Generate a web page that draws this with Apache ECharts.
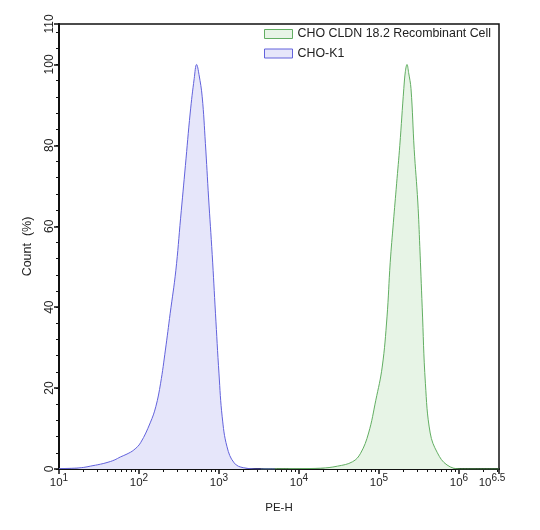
<!DOCTYPE html>
<html>
<head>
  <meta charset="UTF-8">
  <title>PE-H histogram</title>
  <style>
    html, body { margin: 0; padding: 0; background: #fff; }
    #chart { width: 540px; height: 530px; }
  </style>
</head>
<body>
  <div id="chart"></div>
  <script src="https://cdn.jsdelivr.net/npm/echarts@6/dist/echarts.min.js"></script>
  <script>
    // CHO-K1 (blue): x in log10(PE-H), y in Count (%)
    const k1Log = [1.0, 1.19, 1.31, 1.39, 1.52, 1.60, 1.69, 1.77, 1.85, 1.935, 2.02, 2.14, 2.21, 2.27, 2.33, 2.39, 2.46, 2.52, 2.58, 2.64, 2.69, 2.72, 2.75, 2.79, 2.83, 2.87, 2.915, 2.956, 3.00, 3.04, 3.10, 3.19, 3.31, 3.52, 3.70];
    const k1Count = [0.1, 0.2, 0.4, 0.7, 1.2, 1.6, 2.2, 3.0, 3.7, 4.7, 6.5, 11.4, 15.4, 21.2, 29.4, 38.5, 49.0, 62.0, 75.0, 88.0, 96.5, 100, 97.5, 92.0, 80.5, 67.0, 53.0, 38.5, 23.5, 12.9, 5.5, 1.5, 0.3, 0, 0];

    // CHO CLDN 18.2 Recombinant Cell (green)
    const cldnLog = [3.52, 4.02, 4.27, 4.48, 4.67, 4.77, 4.87, 4.96, 5.04, 5.10, 5.14, 5.18, 5.22, 5.26, 5.31, 5.33, 5.35, 5.37, 5.40, 5.44, 5.485, 5.51, 5.54, 5.58, 5.64, 5.73, 5.85, 6.02, 6.5];
    const cldnCount = [0, 0.1, 0.2, 0.7, 1.8, 3.9, 8.9, 17.0, 25.2, 37.6, 51.0, 61.0, 70.5, 80.0, 94.0, 98.3, 100, 98.0, 94.0, 79.0, 66.0, 55.0, 40.0, 21.2, 8.9, 4.0, 1.0, 0, 0];

    const seriesNames = ['CHO CLDN 18.2 Recombinant Cell', 'CHO-K1'];
    const xLabelValues = [1, 2, 3, 4, 5, 6, 6.5];
    const yLabelValues = [0, 20, 40, 60, 80, 100, 110];

    const blueLine = '#6262dc';
    const blueFill = '#e6e6fa';
    const greenLine = '#62ae62';
    const greenFill = '#e7f4e6';

    // log minor ticks: 2..9 x 10^n
    const xMinor = [];
    for (let n = 1; n <= 6; n++) {
      for (let k = 2; k <= 9; k++) {
        const v = n + Math.log10(k);
        if (v < 6.5) xMinor.push(v);
      }
    }
    const yMinor = [];
    for (let v = 0; v <= 108; v += 4) yMinor.push(v);

    const pairs = (xs, ys) => xs.map((x, i) => [x, ys[i]]);
    const font = 'Liberation Sans, Arial, sans-serif';

    const chart = echarts.init(document.getElementById('chart'));
    chart.setOption({
      animation: false,
      grid: {
        left: 59, right: 41, top: 24, bottom: 61,
        show: true, borderColor: '#111', borderWidth: 1.5, backgroundColor: 'transparent'
      },
      legend: {
        orient: 'vertical',
        left: 259, top: 23,
        itemWidth: 28, itemHeight: 9, itemGap: 7.5,
        icon: 'rect',
        textStyle: { fontFamily: font, fontSize: 12.4, color: '#222' },
        data: [
          { name: seriesNames[0], itemStyle: { color: greenFill, borderColor: greenLine, borderWidth: 1 } },
          { name: seriesNames[1], itemStyle: { color: blueFill, borderColor: blueLine, borderWidth: 1 } }
        ]
      },
      xAxis: [{
        type: 'value', min: 1, max: 6.5,
        name: 'PE-H', nameLocation: 'middle', nameGap: 33,
        nameTextStyle: { fontFamily: font, fontSize: 11.5, color: '#222' },
        axisLine: { lineStyle: { color: '#111', width: 2 } },
        axisTick: { show: true, length: 5, lineStyle: { color: '#111', width: 1.5 }, customValues: xLabelValues },
        splitLine: { show: false },
        axisLabel: {
          customValues: xLabelValues, margin: 4, color: '#222', fontFamily: font,
          // last label (10^6.5) sits left of its tick, as in the original
          formatter: v => v === 6.5 ? '{b|10}{e|6.5}' : '{b|10}{s|' + v + '}',
          rich: {
            b: { fontSize: 11.5, fontFamily: font, color: '#222', verticalAlign: 'bottom', lineHeight: 12 },
            s: { fontSize: 10, fontFamily: font, color: '#222', verticalAlign: 'bottom', padding: [0, 0, 6, 0] },
            e: { fontSize: 10, fontFamily: font, color: '#222', verticalAlign: 'bottom', padding: [0, 14, 6, 0] }
          }
        }
      }, {
        type: 'value', min: 1, max: 6.5, position: 'bottom',
        axisLine: { show: false },
        axisTick: { show: true, length: 3, lineStyle: { color: '#111', width: 1 }, customValues: xMinor },
        axisLabel: { show: false },
        splitLine: { show: false }
      }],
      yAxis: [{
        type: 'value', min: 0, max: 110,
        name: 'Count  (%)', nameLocation: 'middle', nameGap: 25, nameRotate: 90,
        nameTextStyle: { fontFamily: font, fontSize: 12.5, color: '#222' },
        axisLine: { show: true, lineStyle: { color: '#111', width: 2 } },
        axisTick: { show: true, length: 5, lineStyle: { color: '#111', width: 1.5 }, customValues: yLabelValues },
        splitLine: { show: false },
        axisLabel: { customValues: yLabelValues, rotate: 90, margin: 3, fontFamily: font, fontSize: 12, color: '#222' }
      }, {
        type: 'value', min: 0, max: 110, position: 'left',
        axisLine: { show: false },
        axisTick: { show: true, length: 3, lineStyle: { color: '#111', width: 1 }, customValues: yMinor },
        axisLabel: { show: false },
        splitLine: { show: false }
      }],
      series: [{
        name: seriesNames[0], type: 'line', smooth: 0.4, showSymbol: false,
        color: greenLine,
        lineStyle: { color: greenLine, width: 1 },
        areaStyle: { color: greenFill, opacity: 1 },
        data: pairs(cldnLog, cldnCount)
      }, {
        name: seriesNames[1], type: 'line', smooth: 0.4, showSymbol: false,
        color: blueLine,
        lineStyle: { color: blueLine, width: 1 },
        areaStyle: { color: blueFill, opacity: 1 },
        data: pairs(k1Log, k1Count)
      }]
    });
  </script>
</body>
</html>
